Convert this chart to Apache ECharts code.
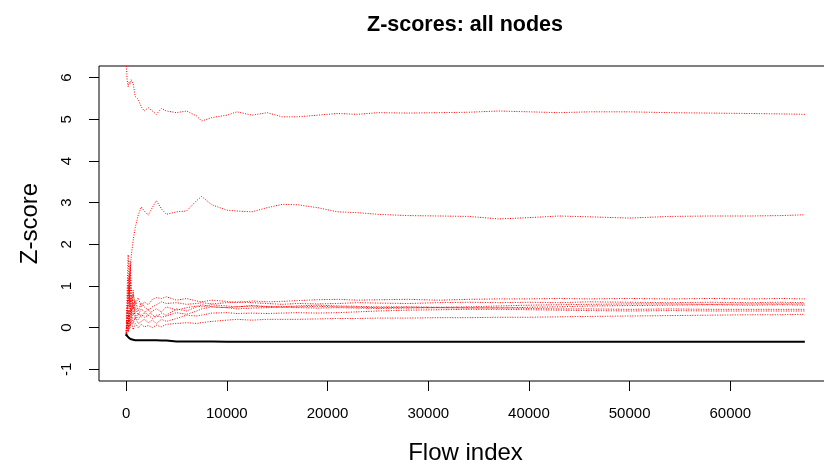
<!DOCTYPE html>
<html>
<head>
<meta charset="utf-8">
<script src="https://cdn.jsdelivr.net/npm/echarts@6/dist/echarts.min.js"></script>
<style>html,body{margin:0;padding:0;background:#fff;}#c{width:824px;height:464px;}</style>
</head>
<body>
<div id="c"></div>
<script>
const flowIndex = [0,100,200,300,400,500,700,900,1200,1500,1800,2200,2600,3000,3500,4000,5000,6000,7000,7500,8500,10000,11000,12500,14000,15500,17000,19000,21000,23000,25000,28000,31000,34000,37000,40000,43000,46000,50000,54000,58000,62000,65000,67400];

const nodeTop = [6.4,5.95,5.78,5.9,5.85,5.95,5.85,5.55,5.48,5.3,5.2,5.28,5.2,5.12,5.26,5.2,5.16,5.2,5.08,4.96,5.04,5.1,5.18,5.1,5.16,5.06,5.06,5.1,5.14,5.12,5.16,5.15,5.16,5.17,5.2,5.18,5.16,5.18,5.18,5.16,5.15,5.14,5.13,5.12];
const nodeSecond = [-0.1,0.4,1.0,0.6,1.3,1.7,2.1,2.4,2.7,2.9,2.8,2.7,2.88,3.05,2.85,2.72,2.78,2.8,3.05,3.15,2.95,2.82,2.8,2.78,2.88,2.96,2.95,2.88,2.78,2.76,2.72,2.69,2.68,2.67,2.61,2.64,2.68,2.66,2.63,2.67,2.68,2.68,2.69,2.71];
const nodeC1 = [-0.2,0.9,1.75,1.1,1.5,0.7,0.8,0.55,0.72,0.5,0.62,0.55,0.68,0.72,0.7,0.74,0.66,0.7,0.64,0.62,0.66,0.63,0.6,0.64,0.62,0.63,0.65,0.67,0.68,0.66,0.67,0.68,0.66,0.68,0.69,0.69,0.7,0.69,0.7,0.69,0.7,0.69,0.7,0.69];
const nodeC2 = [-0.2,0.3,1.2,0.5,1.6,1.0,0.45,0.65,0.4,0.6,0.5,0.42,0.5,0.55,0.62,0.58,0.6,0.56,0.58,0.6,0.57,0.6,0.62,0.6,0.58,0.56,0.58,0.57,0.58,0.6,0.59,0.58,0.6,0.61,0.6,0.61,0.6,0.62,0.61,0.6,0.61,0.6,0.61,0.6];
const nodeC3 = [-0.2,-0.1,0.6,1.3,0.3,0.75,0.3,0.5,0.3,0.45,0.38,0.3,0.4,0.45,0.38,0.5,0.42,0.48,0.52,0.5,0.55,0.52,0.5,0.53,0.51,0.5,0.52,0.54,0.52,0.51,0.5,0.5,0.49,0.5,0.52,0.54,0.55,0.56,0.57,0.57,0.56,0.57,0.57,0.57];
const nodeC4 = [-0.2,0.2,-0.1,0.8,1.1,0.4,0.6,0.2,0.35,0.25,0.35,0.45,0.3,0.25,0.35,0.3,0.45,0.4,0.5,0.55,0.5,0.48,0.5,0.52,0.5,0.49,0.5,0.51,0.5,0.49,0.48,0.49,0.48,0.48,0.47,0.49,0.5,0.52,0.53,0.54,0.55,0.54,0.55,0.54];
const nodeC5 = [-0.2,0.1,0.4,-0.05,0.7,0.2,0.9,0.3,0.2,0.32,0.25,0.3,0.22,0.3,0.25,0.28,0.36,0.32,0.4,0.45,0.5,0.48,0.45,0.47,0.48,0.5,0.48,0.47,0.48,0.47,0.46,0.47,0.48,0.47,0.48,0.46,0.45,0.45,0.44,0.45,0.44,0.44,0.44,0.44];
const nodeC6 = [-0.2,0.5,0.1,0.4,0.0,0.45,0.1,0.25,0.1,0.15,0.2,0.12,0.18,0.1,0.2,0.15,0.22,0.3,0.28,0.3,0.35,0.36,0.34,0.35,0.34,0.35,0.36,0.35,0.36,0.38,0.4,0.42,0.43,0.44,0.44,0.43,0.42,0.41,0.4,0.41,0.4,0.4,0.4,0.4];
const nodeC7 = [-0.2,0.15,-0.1,0.3,0.05,0.2,-0.05,0.1,0.0,0.08,0.02,0.05,0.0,0.06,0.02,0.08,0.1,0.12,0.1,0.12,0.15,0.18,0.2,0.18,0.2,0.2,0.2,0.21,0.22,0.22,0.23,0.23,0.24,0.24,0.25,0.25,0.26,0.27,0.28,0.29,0.3,0.31,0.31,0.32];
const nodeBlack = [-0.15,-0.2,-0.22,-0.25,-0.27,-0.28,-0.29,-0.3,-0.3,-0.3,-0.3,-0.3,-0.3,-0.3,-0.31,-0.31,-0.33,-0.33,-0.33,-0.33,-0.33,-0.34,-0.34,-0.34,-0.34,-0.34,-0.34,-0.34,-0.34,-0.34,-0.34,-0.34,-0.34,-0.34,-0.34,-0.34,-0.34,-0.34,-0.34,-0.34,-0.34,-0.34,-0.34,-0.34];

const xTicks = [0,10000,20000,30000,40000,50000,60000];
const yTicks = [-1,0,1,2,3,4,5,6];

const redNodes = [nodeTop,nodeSecond,nodeC1,nodeC2,nodeC3,nodeC4,nodeC5,nodeC6,nodeC7];
const pairs = ys => flowIndex.map((x,i)=>[x,ys[i]]);

const series = redNodes.map(ys => ({
  type:'line', data:pairs(ys), showSymbol:false, symbol:'none', clip:true,
  lineStyle:{color:'#ff0000', width:1, type:[1,1.5]}
}));
series.push({type:'line', data:pairs(nodeBlack), showSymbol:false, symbol:'none', clip:true,
  lineStyle:{color:'#000000', width:2, type:'solid'}});

const font = 'Liberation Sans, Arial, Helvetica, sans-serif';
const chart = echarts.init(document.getElementById('c'), null, {renderer:'canvas'});
chart.setOption({
  animation:false,
  backgroundColor:'#ffffff',
  title:{text:'Z-scores: all nodes', left:460, top:9, textAlign:'center',
    textStyle:{fontFamily:font, fontSize:21.5, fontWeight:'bold', color:'#000'}},
  grid:{left:99, top:66, width:733, height:315, outerBoundsMode:'none', containLabel:false,
    show:true, borderColor:'#000', borderWidth:1, backgroundColor:'transparent'},
  xAxis:{type:'value', min:-2696, max:70096,
    name:'Flow index', nameLocation:'middle', nameGap:60,
    nameTextStyle:{fontFamily:font, fontSize:24, color:'#000'},
    axisLine:{show:false, onZero:false},
    axisTick:{show:true, inside:false, length:10, customValues:xTicks, lineStyle:{color:'#000'}},
    axisLabel:{customValues:xTicks, margin:25, fontFamily:font, fontSize:15, color:'#000', formatter:v=>String(v)},
    splitLine:{show:false}},
  yAxis:{type:'value', min:-1.28, max:6.28,
    name:'Z-score', nameLocation:'middle', nameGap:57,
    nameTextStyle:{fontFamily:font, fontSize:24, color:'#000'},
    axisLine:{show:false, onZero:false},
    axisTick:{show:true, inside:false, length:10, customValues:yTicks, lineStyle:{color:'#000'}},
    axisLabel:{customValues:yTicks, rotate:90, margin:25, fontFamily:font, fontSize:15, color:'#000', formatter:v=>String(v)},
    splitLine:{show:false}},
  series:series
});
</script>
</body>
</html>
